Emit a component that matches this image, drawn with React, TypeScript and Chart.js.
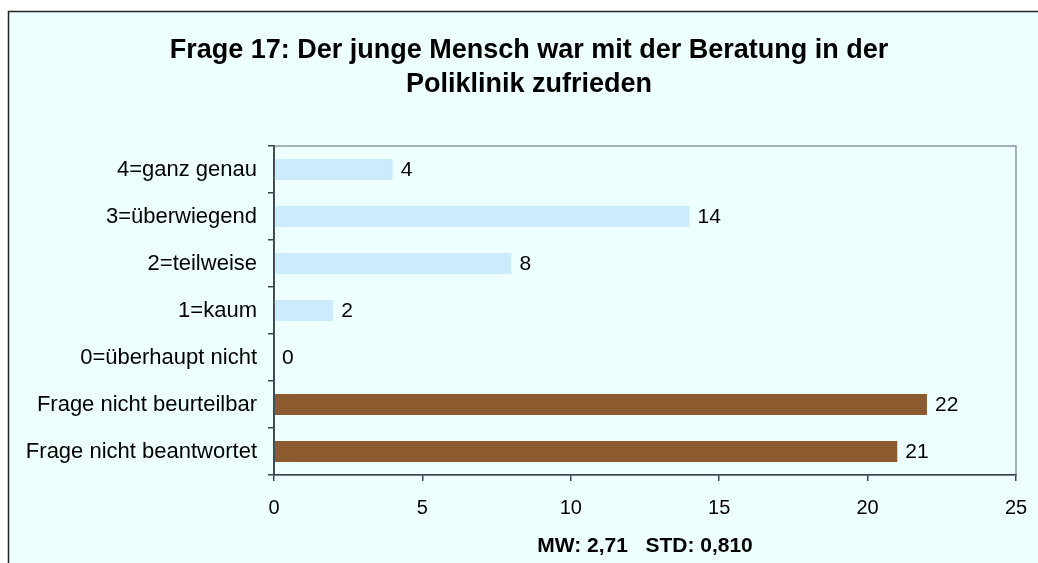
import React, { useEffect, useRef } from "react";
import { Chart, registerables } from "chart.js";

Chart.register(...registerables);

const titleLines = [
  "Frage 17: Der junge Mensch war mit der Beratung in der",
  "Poliklinik zufrieden",
];
const categories = [
  "4=ganz genau",
  "3=überwiegend",
  "2=teilweise",
  "1=kaum",
  "0=überhaupt nicht",
  "Frage nicht beurteilbar",
  "Frage nicht beantwortet",
];
const counts = [4, 14, 8, 2, 0, 22, 21];
const xMin = 0;
const xMax = 25;
const xStep = 5;
const footerText = "MW: 2,71   STD: 0,810";

const W = 1038;
const H = 563;
const FONT = '"Liberation Sans", Arial, Helvetica, sans-serif';
const BG = "#EEFFFF";
const BLUE = "#CCEBFF";
const BROWN = "#8B5A2E";
const AXIS = "#3c4650";

const decor = {
  id: "decor",
  beforeDraw(chart: any) {
    const { ctx, chartArea: a } = chart;
    ctx.save();
    ctx.fillStyle = "#ffffff";
    ctx.fillRect(0, 0, W, H);
    ctx.fillStyle = BG;
    ctx.fillRect(8, 11, W, H);
    ctx.strokeStyle = "#222";
    ctx.lineWidth = 1.5;
    ctx.beginPath();
    ctx.moveTo(8.5, H + 4);
    ctx.lineTo(8.5, 11.5);
    ctx.lineTo(W + 4, 11.5);
    ctx.stroke();
    ctx.strokeStyle = "#8c96a2";
    ctx.lineWidth = 1.5;
    ctx.strokeRect(a.left, a.top, a.right - a.left, a.bottom - a.top);
    ctx.fillStyle = "#000";
    ctx.textAlign = "center";
    ctx.textBaseline = "alphabetic";
    ctx.font = `bold 27px ${FONT}`;
    ctx.fillText(titleLines[0], 529, 58);
    ctx.fillText(titleLines[1], 529, 92);
    ctx.font = `bold 21px ${FONT}`;
    ctx.fillText(footerText, (a.left + a.right) / 2, 552);
    ctx.restore();
  },
  afterDatasetsDraw(chart: any) {
    const { ctx, chartArea: a } = chart;
    ctx.save();
    ctx.strokeStyle = AXIS;
    ctx.lineWidth = 1.5;
    ctx.beginPath();
    ctx.moveTo(a.left, a.top);
    ctx.lineTo(a.left, a.bottom);
    ctx.stroke();
    const meta = chart.getDatasetMeta(0);
    const data = chart.data.datasets[0].data;
    ctx.fillStyle = "#000";
    ctx.font = `21px ${FONT}`;
    ctx.textAlign = "left";
    ctx.textBaseline = "middle";
    meta.data.forEach((bar: any, i: number) => {
      ctx.fillText(String(data[i]), bar.x + 8, bar.y + 1);
    });
    ctx.restore();
  },
};

export default function App() {
  const ref = useRef<HTMLCanvasElement | null>(null);
  useEffect(() => {
    if (!ref.current) return;
    const chart = new Chart(ref.current, {
      type: "bar",
      data: {
        labels: categories,
        datasets: [
          {
            data: counts,
            backgroundColor: (c: any) => (c.dataIndex >= 5 ? BROWN : BLUE),
            borderWidth: 0,
            categoryPercentage: 1,
            barPercentage: 0.45,
          },
        ],
      },
      options: {
        indexAxis: "y",
        responsive: false,
        animation: false,
        devicePixelRatio: 1,
        layout: { padding: { top: 146, right: 22, left: 0, bottom: 0 } },
        plugins: {
          legend: { display: false },
          title: { display: false },
          tooltip: { enabled: false },
        },
        scales: {
          x: {
            type: "linear",
            min: xMin,
            max: xMax,
            ticks: {
              stepSize: xStep,
              color: "#000",
              font: { family: FONT, size: 20 },
              padding: 15,
              maxRotation: 0,
            },
            grid: {
              drawOnChartArea: false,
              drawTicks: true,
              tickLength: 6,
              color: AXIS,
              lineWidth: 1.5,
            },
            border: { display: true, color: AXIS, width: 1.5 },
            afterFit(scale: any) {
              scale.height = H - 475;
              scale.paddingLeft = 0;
              scale.paddingRight = 0;
            },
          },
          y: {
            type: "category",
            offset: true,
            ticks: {
              color: "#000",
              font: { family: FONT, size: 22 },
              padding: 11,
            },
            grid: {
              offset: true,
              drawOnChartArea: false,
              drawTicks: true,
              tickLength: 6,
              color: AXIS,
              lineWidth: 1.5,
            },
            border: { display: true, color: AXIS, width: 1.5 },
            afterFit(scale: any) {
              scale.width = 274;
            },
          },
        },
      },
      plugins: [decor],
    } as any);
    return () => chart.destroy();
  }, []);
  return (
    <div style={{ position: "fixed", left: 0, top: 0, width: W, height: H, background: "#fff" }}>
      <canvas ref={ref} width={W} height={H} style={{ display: "block", width: W, height: H }} />
    </div>
  );
}
